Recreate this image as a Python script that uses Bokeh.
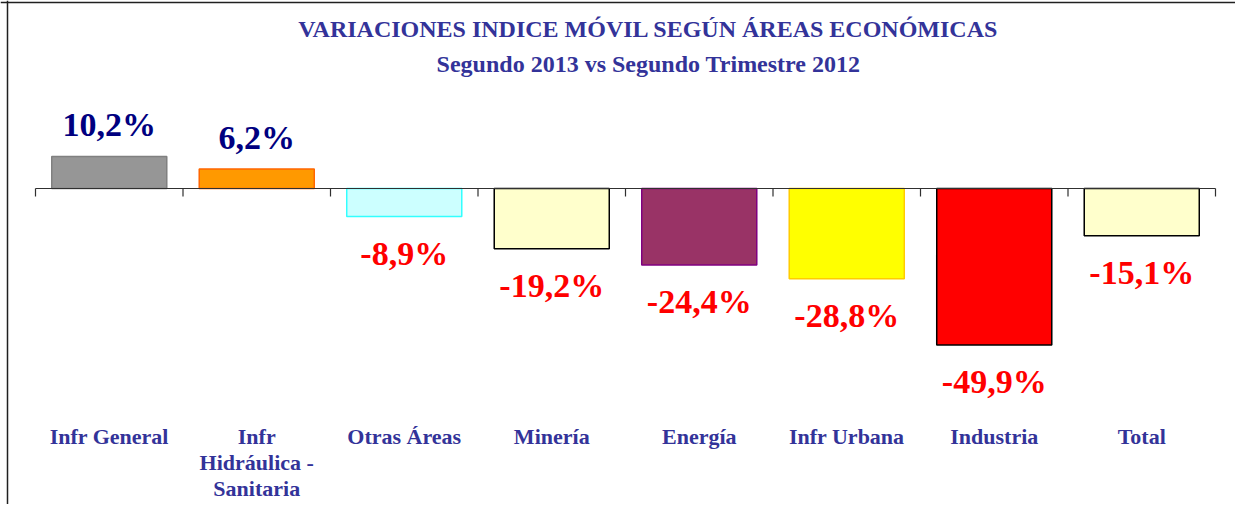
from bokeh.plotting import figure
from bokeh.models import Range1d, Label, Span, ColumnDataSource
from bokeh.core.properties import value
from bokeh.embed import file_html
from bokeh.resources import INLINE

# ---- data ----
categories = ["Infr General", "Infr\nHidráulica -\nSanitaria", "Otras Áreas", "Minería",
              "Energía", "Infr Urbana", "Industria", "Total"]
variations = [10.2, 6.2, -8.9, -19.2, -24.4, -28.8, -49.9, -15.1]
fill_colors = ["#969696", "#FF9900", "#CCFFFF", "#FFFFCC", "#993366", "#FFFF00", "#FF0000", "#FFFFCC"]
line_colors = ["#808080", "#FF6600", "#33FFFF", "#000000", "#800080", "#FFCC00", "#000000", "#000000"]
title_text = "VARIACIONES INDICE MÓVIL SEGÚN ÁREAS ECONÓMICAS"
subtitle_text = "Segundo 2013 vs Segundo Trimestre 2012"

# ---- geometry (canvas pixels) ----
W, H = 1235, 504
AXIS_X0, CAT_PX = 35, 147.5       # left end of the category axis, px per category
AXIS_Y, PPU = 188, 3.135          # zero line, px per % unit
X_START = -AXIS_X0 / CAT_PX
X_END = X_START + W / CAT_PX
Y_TOP = AXIS_Y / PPU
Y_BOTTOM = -(H - AXIS_Y) / PPU


def ydata(py):
    return (AXIS_Y - py) / PPU


def xdata(px):
    return (px - AXIS_X0) / CAT_PX


FONT = value("Liberation Serif")
BLUE = "#333399"

n = len(categories)
xs = [i + 0.5 for i in range(n)]
labels = [f"{v:.1f}".replace(".", ",") + "%" for v in variations]
label_colors = ["#000080" if v >= 0 else "#FF0000" for v in variations]
label_y = [v + 32 / PPU if v >= 0 else v - 37 / PPU for v in variations]
cat_y = [ydata(423)] * n

src = ColumnDataSource(dict(x=xs, top=variations, fill=fill_colors, line=line_colors,
                            lab=labels, lab_y=label_y, lab_c=label_colors, cat=categories,
                            cat_y=cat_y))

p = figure(width=W, height=H, output_backend="svg", toolbar_location=None, title=None,
           x_range=Range1d(X_START, X_END), y_range=Range1d(Y_BOTTOM, Y_TOP),
           x_axis_location=None, y_axis_location=None, min_border=0)
p.outline_line_color = None
p.background_fill_color = "white"
p.border_fill_color = "white"
p.xgrid.grid_line_color = None
p.ygrid.grid_line_color = None

p.vbar(x="x", top="top", bottom=0, width=0.78, source=src,
       fill_color="fill", line_color="line", line_width=1.5)

# axis line at zero with ticks at category boundaries
bounds = list(range(n + 1))
p.segment(x0=[0], y0=[0], x1=[n], y1=[0], line_color="#303030", line_width=1.2)
p.segment(x0=bounds, y0=[0] * len(bounds), x1=bounds, y1=[-8 / PPU] * len(bounds),
          line_color="#303030", line_width=1.2)

# value labels
p.text(x="x", y="lab_y", text="lab", source=src, text_color="lab_c",
       text_font=FONT, text_font_style="bold", text_font_size="34px",
       text_align="center", text_baseline="middle")

# category labels
p.text(x="x", y="cat_y", text="cat", source=src, text_color=BLUE,
       text_font=FONT, text_font_style="bold", text_font_size="22px",
       text_align="center", text_baseline="top", text_line_height=1.05)

# titles
tx = xdata(648)
p.add_layout(Label(x=tx, y=ydata(28), text=title_text, text_font="Liberation Serif",
                   text_font_style="bold", text_font_size="24px", text_color=BLUE,
                   text_align="center", text_baseline="middle"))
p.add_layout(Label(x=tx, y=ydata(63), text=subtitle_text, text_font="Liberation Serif",
                   text_font_style="bold", text_font_size="24px", text_color=BLUE,
                   text_align="center", text_baseline="middle"))

# chart border (left and top)
p.add_layout(Span(location=xdata(7), dimension="height", line_color="#202020", line_width=1.5))
p.add_layout(Span(location=ydata(2), dimension="width", line_color="#202020", line_width=1.5))

open("out.html", "w").write(file_html(p, INLINE))
